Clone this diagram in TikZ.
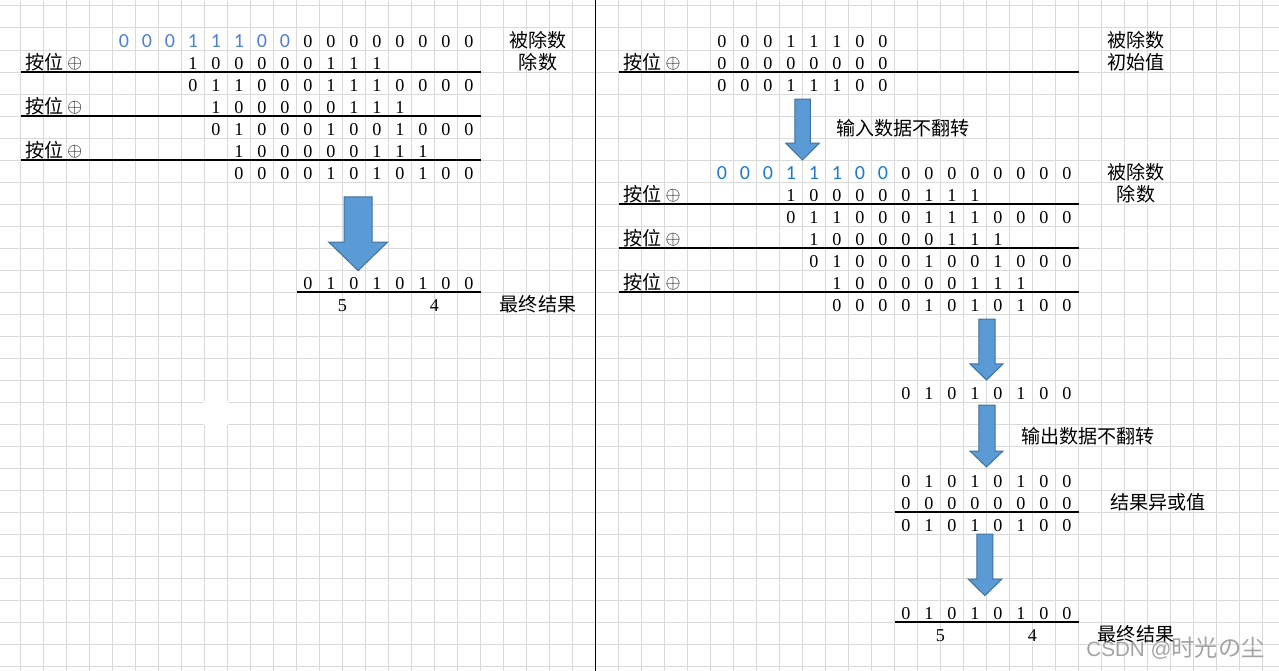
\documentclass[tikz,border=0pt]{standalone}
\usepackage{fontspec}
\setmainfont{Liberation Serif}
\newfontfamily\cjk{Noto Sans CJK SC}
\newfontfamily\calib{Carlito}
\newfontfamily\wmsans{Liberation Sans}

\definecolor{gridgray}{HTML}{DADADA}
\definecolor{blueleft}{HTML}{4F80DC}
\definecolor{blueright}{HTML}{1F7BC8}
\definecolor{arrowfill}{HTML}{5B9BD5}
\definecolor{arrowedge}{HTML}{41719C}

\tikzset{
  gridline/.style={draw=gridgray, line width=0.75pt},
  bit/.style={anchor=base, inner sep=0pt, font=\fontsize{13.6}{16}\selectfont},
  bitleft/.style={bit, text=blueleft, font=\calib\fontsize{15}{18}\selectfont},
  bitright/.style={bit, text=blueright, font=\calib\fontsize{15}{18}\selectfont},
  lbl/.style={anchor=base, inner sep=0pt, font=\cjk\fontsize{14.3}{17}\selectfont},
  xorlbl/.style={lbl, anchor=base west},
  sumline/.style={line width=0.9pt},
  blockarrow/.style={fill=arrowfill, draw=arrowedge, line width=0.75pt},
}

\newcommand{\xortext}{按位\hspace{3pt}\raisebox{0.5pt}{\fontsize{14}{16}\selectfont$\oplus$}}

\begin{document}
\begin{tikzpicture}[x=17.25pt, y=-16.5pt]
  \useasboundingbox (0.1087,-0.2727) rectangle (55.7174,30.2273);

  % sheet grid
  \foreach \k in {0,...,55} \draw[gridline] (\k,-0.4) -- (\k,30.4);
  \foreach \k in {0,...,30} \draw[gridline] (0,\k) -- (56,\k);
  \draw[white, line width=1pt] (9,18) rectangle (10,19);
  \draw[line width=1pt] (26,-0.4) -- (26,30.4);

  % ---- left: long division ----
  \foreach \b [count=\i from 5] in {0,0,0,1,1,1,0,0}
    \node[bitleft] (a1-\i) at (\i+.5,1.88) {\b};
  \foreach \b [count=\i from 13] in {0,0,0,0,0,0,0,0}
    \node[bit] (a1-\i) at (\i+.5,1.88) {\b};
  \foreach \b [count=\i from 8] in {1,0,0,0,0,0,1,1,1}
    \node[bit] (a2-\i) at (\i+.5,2.88) {\b};
  \foreach \b [count=\i from 8] in {0,1,1,0,0,0,1,1,1,0,0,0,0}
    \node[bit] (a3-\i) at (\i+.5,3.88) {\b};
  \foreach \b [count=\i from 9] in {1,0,0,0,0,0,1,1,1}
    \node[bit] (a4-\i) at (\i+.5,4.88) {\b};
  \foreach \b [count=\i from 9] in {0,1,0,0,0,1,0,0,1,0,0,0}
    \node[bit] (a5-\i) at (\i+.5,5.88) {\b};
  \foreach \b [count=\i from 10] in {1,0,0,0,0,0,1,1,1}
    \node[bit] (a6-\i) at (\i+.5,6.88) {\b};
  \foreach \b [count=\i from 10] in {0,0,0,0,1,0,1,0,1,0,0}
    \node[bit] (a7-\i) at (\i+.5,7.88) {\b};
  \foreach \r in {2,4,6}
    \node[xorlbl] (axor\r) at (1.2,\r+.88) {\xortext};
  \foreach \r in {3,5,7}
    \draw[sumline] (1,\r) -- (21,\r);
  \node[lbl] (adividend) at (23.5,1.88) {被除数};
  \node[lbl] (adivisor) at (23.5,2.88) {除数};

  \draw[blockarrow] (15.07,8.68) -- (16.29,8.68) -- (16.29,10.73) -- (16.96,10.73)
    -- (15.68,12.03) -- (14.40,10.73) -- (15.07,10.73) -- cycle;

  \foreach \b [count=\i from 13] in {0,1,0,1,0,1,0,0}
    \node[bit] (a12-\i) at (\i+.5,12.88) {\b};
  \draw[sumline] (13,13) -- (21,13);
  \node[bit] (ahi) at (15,13.88) {5};
  \node[bit] (alo) at (19,13.88) {4};
  \node[lbl] (aresult) at (23.5,13.88) {最终结果};

  % ---- right: with init value and xor out ----
  \foreach \b [count=\i from 31] in {0,0,0,1,1,1,0,0}
    \node[bit] (b1-\i) at (\i+.5,1.88) {\b};
  \foreach \b [count=\i from 31] in {0,0,0,0,0,0,0,0}
    \node[bit] (b2-\i) at (\i+.5,2.88) {\b};
  \foreach \b [count=\i from 31] in {0,0,0,1,1,1,0,0}
    \node[bit] (b3-\i) at (\i+.5,3.88) {\b};
  \node[xorlbl] (bxor2) at (27.2,2.88) {\xortext};
  \draw[sumline] (27,3) -- (47,3);
  \node[lbl] (bdividend) at (49.5,1.88) {被除数};
  \node[lbl] (binit) at (49.5,2.88) {初始值};

  \draw[blockarrow] (34.67,4.23) -- (35.34,4.23) -- (35.34,6.23) -- (35.73,6.23)
    -- (35.0,7.0) -- (34.27,6.23) -- (34.67,6.23) -- cycle;
  \node[xorlbl] (brefin) at (36.45,5.88) {输入数据不翻转};

  \foreach \b [count=\i from 31] in {0,0,0,1,1,1,0,0}
    \node[bitright] (b7-\i) at (\i+.5,7.88) {\b};
  \foreach \b [count=\i from 39] in {0,0,0,0,0,0,0,0}
    \node[bit] (b7-\i) at (\i+.5,7.88) {\b};
  \foreach \b [count=\i from 34] in {1,0,0,0,0,0,1,1,1}
    \node[bit] (b8-\i) at (\i+.5,8.88) {\b};
  \foreach \b [count=\i from 34] in {0,1,1,0,0,0,1,1,1,0,0,0,0}
    \node[bit] (b9-\i) at (\i+.5,9.88) {\b};
  \foreach \b [count=\i from 35] in {1,0,0,0,0,0,1,1,1}
    \node[bit] (b10-\i) at (\i+.5,10.88) {\b};
  \foreach \b [count=\i from 35] in {0,1,0,0,0,1,0,0,1,0,0,0}
    \node[bit] (b11-\i) at (\i+.5,11.88) {\b};
  \foreach \b [count=\i from 36] in {1,0,0,0,0,0,1,1,1}
    \node[bit] (b12-\i) at (\i+.5,12.88) {\b};
  \foreach \b [count=\i from 36] in {0,0,0,0,1,0,1,0,1,0,0}
    \node[bit] (b13-\i) at (\i+.5,13.88) {\b};
  \foreach \r in {8,10,12}
    \node[xorlbl] (bxor\r) at (27.2,\r+.88) {\xortext};
  \foreach \r in {9,11,13}
    \draw[sumline] (27,\r) -- (47,\r);
  \node[lbl] (bdividend2) at (49.5,7.88) {被除数};
  \node[lbl] (bdivisor) at (49.5,8.88) {除数};

  \draw[blockarrow] (42.67,14.23) -- (43.37,14.23) -- (43.37,16.27) -- (43.72,16.27)
    -- (43.0,17.0) -- (42.28,16.27) -- (42.67,16.27) -- cycle;
  \foreach \b [count=\i from 39] in {0,1,0,1,0,1,0,0}
    \node[bit] (b17-\i) at (\i+.5,17.88) {\b};

  \draw[blockarrow] (42.67,18.14) -- (43.37,18.14) -- (43.37,20.23) -- (43.72,20.23)
    -- (43.0,20.95) -- (42.28,20.23) -- (42.67,20.23) -- cycle;
  \node[xorlbl] (brefout) at (44.5,19.88) {输出数据不翻转};

  \foreach \b [count=\i from 39] in {0,1,0,1,0,1,0,0}
    \node[bit] (b21-\i) at (\i+.5,21.88) {\b};
  \foreach \b [count=\i from 39] in {0,0,0,0,0,0,0,0}
    \node[bit] (b22-\i) at (\i+.5,22.88) {\b};
  \draw[sumline] (39,23) -- (47,23);
  \foreach \b [count=\i from 39] in {0,1,0,1,0,1,0,0}
    \node[bit] (b23-\i) at (\i+.5,23.88) {\b};
  \node[xorlbl] (bxorout) at (48.37,22.88) {结果异或值};

  \draw[blockarrow] (42.58,24.0) -- (43.28,24.0) -- (43.28,26.05) -- (43.67,26.05)
    -- (42.93,26.8) -- (42.2,26.05) -- (42.58,26.05) -- cycle;
  \foreach \b [count=\i from 39] in {0,1,0,1,0,1,0,0}
    \node[bit] (b27-\i) at (\i+.5,27.88) {\b};
  \draw[sumline] (39,28) -- (47,28);
  \node[bit] (bhi) at (41,28.88) {5};
  \node[bit] (blo) at (45,28.88) {4};
  \node[lbl] (bresult) at (49.5,28.88) {最终结果};

  \node[anchor=base west, inner sep=0pt, text=black!36,
    font=\wmsans\fontsize{15.5}{18}\selectfont] (mark) at (47.33,29.59)
    {CSDN @{\cjk\fontsize{17.5}{19}\selectfont 时光の尘}};
\end{tikzpicture}
\end{document}
